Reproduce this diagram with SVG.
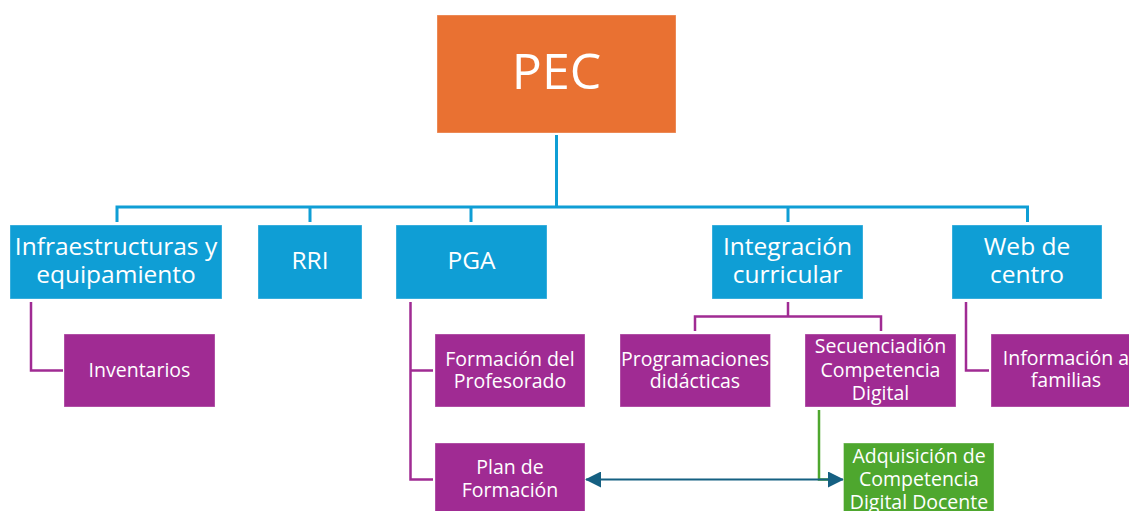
<svg xmlns="http://www.w3.org/2000/svg" width="1129" height="511" viewBox="0 0 1129 511">
  <defs>
    <style>
      .box { stroke: #ffffff; stroke-opacity: 0.35; stroke-width: 1; }
      .orange { fill: #E97132; }
      .blue { fill: #0F9ED5; }
      .purple { fill: #A02B93; }
      .green { fill: #4EA72E; }
      text { font-family: "Open Sans", "Noto Sans", sans-serif; fill: #ffffff; text-anchor: middle; }
      .t1 { font-size: 50px; }
      .t2 { font-size: 24.5px; }
      .t3 { font-size: 19.5px; }
      .cb { fill: none; stroke: #0F9ED5; stroke-width: 3; }
      .cp { fill: none; stroke: #A02B93; stroke-width: 2.5; }
      .cg { fill: none; stroke: #4EA72E; stroke-width: 2.5; }
      .ca { fill: none; stroke: #156082; stroke-width: 2; }
    </style>
    <marker id="ah" viewBox="0 0 16 16" refX="15" refY="8" markerWidth="16" markerHeight="16" markerUnits="userSpaceOnUse" orient="auto-start-reverse">
      <path d="M0,0 L16,8 L0,16 Z" fill="#156082"/>
    </marker>
  </defs>

  <g id="connectors">
    <path class="cb" d="M556.5,135 V207 M117,207 H1027.5 M117,205.5 V222 M310,207 V222 M471,207 V222 M788,207 V222 M1027.5,205.5 V222"/>
    <path class="cp" d="M31,302 V370.5 H63"/>
    <path class="cp" d="M410.5,302 V479.5 H433 M410.5,370.5 H433"/>
    <path class="cp" d="M788,302 V316.5 M695,331 V316.5 H881 V331"/>
    <path class="cp" d="M966,302 V370.5 H989"/>
    <path class="cg" d="M819,410 V479.5 H832"/>
    <line class="ca" x1="586" y1="479.5" x2="843" y2="479.5" marker-start="url(#ah)" marker-end="url(#ah)"/>
  </g>

  <g id="node-pec">
    <rect class="box orange" x="437" y="15" width="239" height="118"/>
    <text class="t1" x="556.5" y="89">PEC</text>
  </g>

  <g id="node-infra">
    <rect class="box blue" x="10" y="225" width="212" height="74"/>
    <text class="t2" x="116" y="255">Infraestructuras y</text>
    <text class="t2" x="116" y="283">equipamiento</text>
  </g>
  <g id="node-rri">
    <rect class="box blue" x="258" y="225" width="104" height="74"/>
    <text class="t2" x="310" y="269">RRI</text>
  </g>
  <g id="node-pga">
    <rect class="box blue" x="396" y="225" width="151" height="74"/>
    <text class="t2" x="471.5" y="269">PGA</text>
  </g>
  <g id="node-integracion">
    <rect class="box blue" x="712" y="225" width="151" height="74"/>
    <text class="t2" x="787.5" y="255">Integración</text>
    <text class="t2" x="787.5" y="283">curricular</text>
  </g>
  <g id="node-web">
    <rect class="box blue" x="952" y="225" width="150" height="74"/>
    <text class="t2" x="1027" y="255">Web de</text>
    <text class="t2" x="1027" y="283">centro</text>
  </g>

  <g id="node-inventarios">
    <rect class="box purple" x="64" y="334" width="151" height="73"/>
    <text class="t3" x="139.5" y="377">Inventarios</text>
  </g>
  <g id="node-formacion-profesorado">
    <rect class="box purple" x="435" y="334" width="150" height="73"/>
    <text class="t3" x="510" y="365.5">Formación del</text>
    <text class="t3" x="510" y="388">Profesorado</text>
  </g>
  <g id="node-plan-formacion">
    <rect class="box purple" x="435" y="443" width="150" height="80"/>
    <text class="t3" x="510" y="474">Plan de</text>
    <text class="t3" x="510" y="497">Formación</text>
  </g>
  <g id="node-programaciones">
    <rect class="box purple" x="620" y="334" width="150.5" height="73"/>
    <text class="t3" x="695" y="365.5">Programaciones</text>
    <text class="t3" x="695" y="388">didácticas</text>
  </g>
  <g id="node-secuenciacion">
    <rect class="box purple" x="805" y="334" width="151" height="73"/>
    <text class="t3" x="880.5" y="353">Secuenciadión</text>
    <text class="t3" x="880.5" y="376.5">Competencia</text>
    <text class="t3" x="880.5" y="400">Digital</text>
  </g>
  <g id="node-informacion">
    <rect class="box purple" x="991" y="334" width="150" height="73"/>
    <text class="t3" x="1066" y="365">Información a</text>
    <text class="t3" x="1066" y="387">familias</text>
  </g>
  <g id="node-adquisicion">
    <rect class="box green" x="843.5" y="443" width="150.5" height="80"/>
    <text class="t3" x="919" y="463">Adquisición de</text>
    <text class="t3" x="919" y="486">Competencia</text>
    <text class="t3" x="919" y="508.5">Digital Docente</text>
  </g>
</svg>
